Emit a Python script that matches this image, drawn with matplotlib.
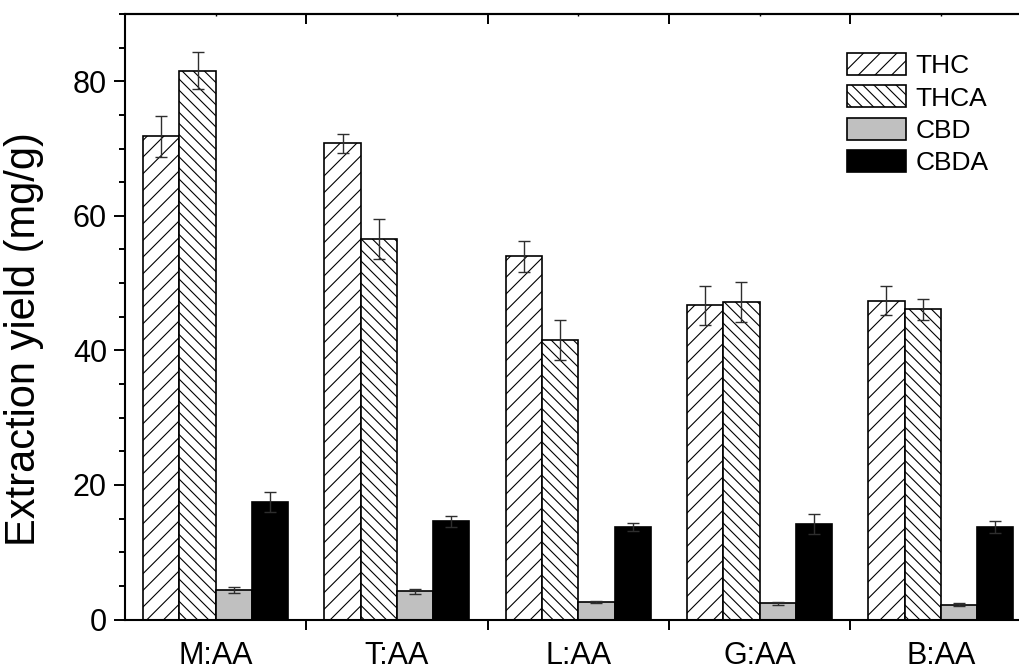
import numpy as np
import matplotlib.pyplot as plt
from matplotlib.ticker import MultipleLocator, FixedLocator

plt.rcParams['font.family'] = ['Liberation Sans', 'DejaVu Sans']
plt.rcParams['hatch.linewidth'] = 0.8

# donnees
groupes = ['M:AA', 'T:AA', 'L:AA', 'G:AA', 'B:AA']
series = ['THC', 'THCA', 'CBD', 'CBDA']
thc = [71.8, 70.8, 54.0, 46.7, 47.4]
thc_err = [3.1, 1.4, 2.3, 2.9, 2.2]
thca = [81.6, 56.6, 41.5, 47.2, 46.1]
thca_err = [2.8, 3.0, 3.0, 3.0, 1.6]
cbd = [4.4, 4.2, 2.6, 2.4, 2.2]
cbd_err = [0.4, 0.4, 0.15, 0.2, 0.2]
cbda = [17.5, 14.6, 13.7, 14.2, 13.8]
cbda_err = [1.5, 0.8, 0.6, 1.45, 0.9]

valeurs = [thc, thca, cbd, cbda]
erreurs = [thc_err, thca_err, cbd_err, cbda_err]
couleurs = ['white', 'white', '#c0c0c0', 'black']
hachures = ['//', '\\\\\\', None, None]

fig = plt.figure(figsize=(10.2, 6.71), dpi=100)
ax = fig.add_axes([125/1020, 1-619.5/671, 5*181.3/1020, (619.5-14)/671])

x = np.arange(len(groupes))
w = 0.2
for i in range(4):
    pos = x + (i-1.5)*w
    ax.bar(pos, valeurs[i], w, color=couleurs[i], edgecolor='black',
           linewidth=1.2, hatch=hachures[i], label=series[i], zorder=2)
    ax.errorbar(pos, valeurs[i], yerr=erreurs[i], fmt='none', ecolor='#2e2e2e',
                elinewidth=1, capsize=4, capthick=1, zorder=3)

ax.set_xlim(-0.5, 4.5)
ax.set_ylim(0, 90)

ax.yaxis.set_major_locator(FixedLocator([0, 20, 40, 60, 80]))
ax.yaxis.set_minor_locator(MultipleLocator(5))
ax.tick_params(axis='y', which='major', direction='out', length=8, width=1.4,
               labelsize=22, pad=5)
ax.tick_params(axis='y', which='minor', direction='out', length=4, width=1.4)

# x : traits entre les groupes, etiquettes au centre
ax.xaxis.set_major_locator(FixedLocator([0.5, 1.5, 2.5, 3.5]))
ax.xaxis.set_minor_locator(FixedLocator(x))
ax.set_xticklabels([], minor=False)
ax.set_xticklabels(groupes, minor=True)
ax.tick_params(axis='x', which='major', direction='out', length=7, width=1.4)
ax.tick_params(axis='x', which='minor', length=0, labelsize=22, pad=15.5)

for s in ['left', 'bottom', 'top', 'right']:
    ax.spines[s].set_linewidth(1.5)

sec = ax.secondary_xaxis('top')
sec.xaxis.set_major_locator(FixedLocator([0.5, 1.5, 2.5, 3.5]))
sec.xaxis.set_minor_locator(FixedLocator(x))
sec.tick_params(axis='x', which='major', direction='in', length=7, width=1.4, labelsize=0)
sec.tick_params(axis='x', which='minor', direction='in', length=1.5, width=1)
sec.set_xticklabels([])
sec.spines['top'].set_linewidth(1.5)

fig.text(4/1020, 1-339/671, 'Extraction yield (mg/g)', rotation=90,
         ha='left', va='center', fontsize=30)

fig.legend(loc='upper left', bbox_to_anchor=(847/1020, 1-53/671),
           bbox_transform=fig.transFigure, frameon=False, fontsize=19,
           handlelength=2.25, handleheight=0.9, handletextpad=0.34,
           labelspacing=0.28, borderpad=0, borderaxespad=0)

fig.savefig('out.png', dpi=100)
